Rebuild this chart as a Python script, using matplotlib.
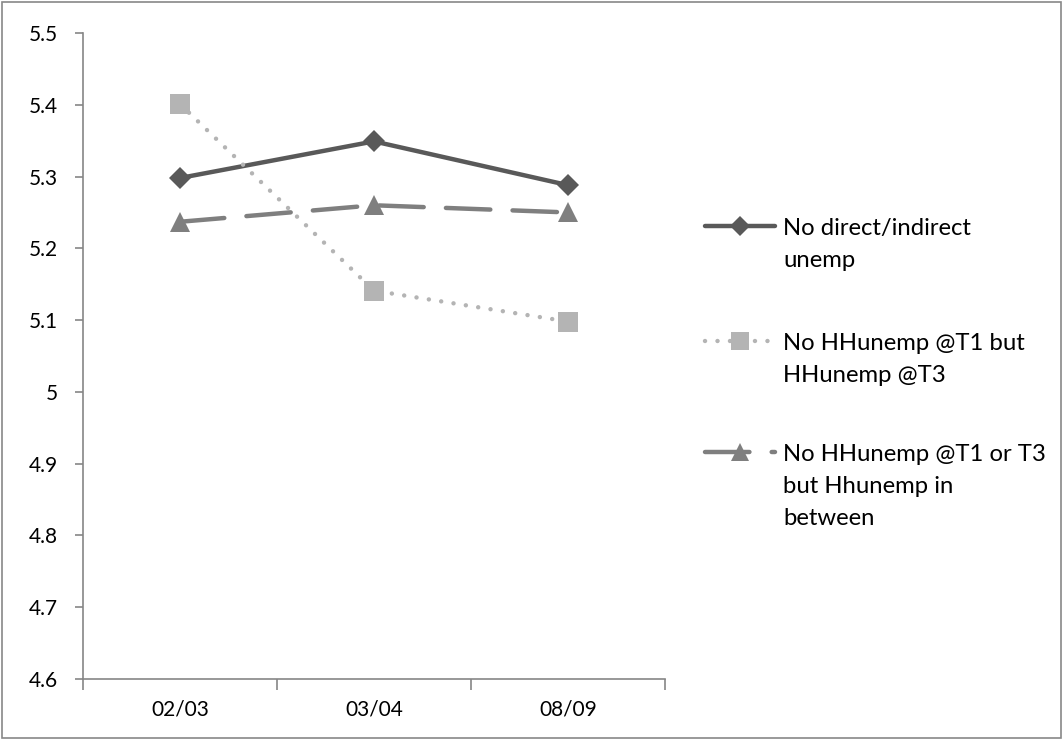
import matplotlib.pyplot as plt
import numpy as np
from matplotlib.lines import Line2D
from matplotlib.patches import Rectangle

# Mean scores per wave for three household unemployment groups
waves = ['02/03', '03/04', '08/09']
no_unemp = [5.298, 5.349, 5.288]
hh_t3 = [5.401, 5.141, 5.098]
hh_between = [5.237, 5.260, 5.250]

labels = ['No direct/indirect\nunemp',
          'No HHunemp @T1 but\nHHunemp @T3',
          'No HHunemp @T1 or T3\nbut Hhunemp in\nbetween']
y_ticks = [4.6, 4.7, 4.8, 4.9, 5.0, 5.1, 5.2, 5.3, 5.4, 5.5]

plt.rcParams.update({
    'font.family': ['Lato', 'DejaVu Sans'],
    'font.size': 15,
})

fig = plt.figure(figsize=(10.63, 7.40), dpi=100)
ax = fig.add_axes([83 / 1063, 1 - 679 / 740, (665 - 83) / 1063, (679 - 33) / 740])

x = np.arange(len(waves))

styles = [
    dict(color='#595959', marker='D', markersize=11, linestyle='-', linewidth=3.2),
    dict(color='#b4b4b4', marker='s', markersize=14, linestyle=(0, (0.01, 2.8)),
         linewidth=3.2, dash_capstyle='round'),
    dict(color='#7f7f7f', marker='^', markersize=14, linestyle=(0, (10, 5.0)),
         linewidth=3.2, dash_capstyle='round'),
]

for vals, st in zip([no_unemp, hh_t3, hh_between], styles):
    ax.plot(x, vals, markeredgewidth=0, solid_capstyle='round', **st)

ax.set_xlim(-0.5, 2.5)
ax.set_ylim(4.6, 5.5)
ax.set_yticks(y_ticks)
ax.set_yticklabels([f'{v:g}' for v in y_ticks])
ax.set_xticks(x)
ax.set_xticklabels(waves)
ax.set_xticks([-0.5, 0.5, 1.5, 2.5], minor=True)

ax.tick_params(axis='x', which='major', length=0, pad=15)
ax.tick_params(axis='x', which='minor', length=8, width=1.2, color='#868686')
ax.tick_params(axis='y', length=6, width=1.2, color='#868686', pad=12)

for side in ['top', 'right']:
    ax.spines[side].set_visible(False)
for side in ['left', 'bottom']:
    ax.spines[side].set_color('#868686')
    ax.spines[side].set_linewidth(1.2)

# Legend drawn by hand so the key sits beside the first line of each label
W, H = 1063, 740
legend_y = [226, 341, 452]
for ly, lab, st in zip(legend_y, labels, styles):
    yf = 1 - ly / H
    line_kw = {k: v for k, v in st.items() if k not in ('marker', 'markersize')}
    fig.add_artist(Line2D([705 / W, 775 / W], [yf, yf], transform=fig.transFigure,
                          solid_capstyle='round', **line_kw))
    fig.add_artist(Line2D([740 / W], [yf], transform=fig.transFigure, linestyle='none',
                          marker=st['marker'], markersize=st['markersize'] * 0.9,
                          color=st['color'], markeredgewidth=0))
    fig.text(783 / W, yf + 0.011, lab, ha='left', va='top', fontsize=17.2,
             linespacing=1.65)

# Thin border around the whole chart
fig.add_artist(Rectangle((2 / W, 2 / H), 1 - 4 / W, 1 - 4 / H, transform=fig.transFigure,
                         fill=False, edgecolor='#888888', linewidth=1.2))

fig.savefig('out.png', dpi=100)
